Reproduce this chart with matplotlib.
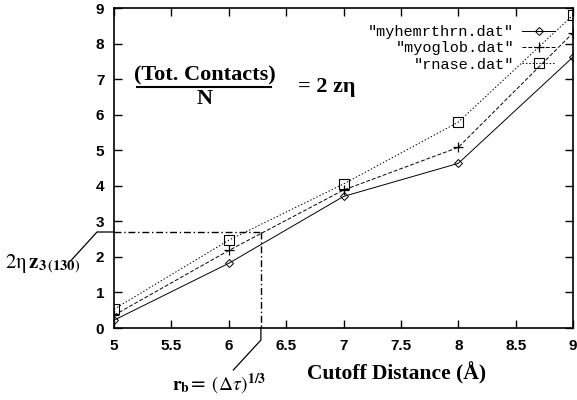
import matplotlib
matplotlib.use("Agg")
import matplotlib.pyplot as plt

plt.rcParams["mathtext.fontset"] = "stix"

# cutoff distance (Angstrom)
cutoff = [5, 6, 7, 8, 9]
# contacts per residue for each protein
myhemrthrn = [0.22, 1.82, 3.70, 4.63, 7.62]
myoglob = [0.36, 2.18, 3.88, 5.08, 8.30]
rnase = [0.53, 2.47, 4.05, 5.79, 8.80]
labels = ['"myhemrthrn.dat"', '"myoglob.dat"', '"rnase.dat"']

x_ticks = [5, 5.5, 6, 6.5, 7, 7.5, 8, 8.5, 9]
x_ticklabels = ["5", "5.5", "6", "6.5", "7", "7.5", "8", "8.5", "9"]
y_ticks = list(range(10))

# construction point marked on the chart
r_b = 6.28
z3_level = 2.70

fig = plt.figure(figsize=(5.77, 4.0), dpi=100)
ax = fig.add_axes([0.1976, 0.18, 0.7955, 0.80])

lw = 0.7
ax.plot(cutoff, myhemrthrn, color="black", lw=lw, ls="-", marker="D",
        ms=4.5, mfc="none", mew=0.7, label=labels[0])
ax.plot(cutoff, myoglob, color="black", lw=lw, ls=(0, (4, 2)), marker="+",
        ms=7, mew=0.9, label=labels[1])
ax.plot(cutoff, rnase, color="black", lw=lw, ls=(0, (1.5, 2)), marker="s",
        ms=7, mfc="none", mew=0.8, label=labels[2])

ax.set_xlim(5, 9)
ax.set_ylim(0, 9)
ax.set_xticks(x_ticks)
ax.set_xticklabels(x_ticklabels)
ax.set_yticks(y_ticks)
ax.tick_params(direction="in", length=6, width=1, top=True, right=True,
               labelsize=11)
ax.tick_params(axis="x", pad=8)
ax.tick_params(axis="y", pad=7)
for lab in ax.get_xticklabels() + ax.get_yticklabels():
    lab.set_fontfamily("Liberation Sans")
    lab.set_fontweight("bold")
for sp in ax.spines.values():
    sp.set_linewidth(1.2)

leg = ax.legend(loc="upper right", bbox_to_anchor=(0.985, 0.98),
                markerfirst=False, frameon=False, handlelength=2.2,
                handletextpad=0.5, labelspacing=0.15, borderpad=0.2,
                prop={"family": "Liberation Mono", "size": 11})

# dash-dot construction lines
ax.plot([5, r_b], [z3_level, z3_level], color="black", lw=1.0,
        ls=(0, (5, 2, 1, 2)))
ax.plot([r_b, r_b], [z3_level, 0], color="black", lw=1.0,
        ls=(0, (5, 2, 1, 2)))
# leader lines to the outside labels
ax.plot([5, 4.852, 4.62], [z3_level, z3_level, 1.88], color="black",
        lw=0.9, clip_on=False)
ax.plot([r_b, r_b, 6.04], [0, -0.34, -1.18], color="black", lw=0.9,
        clip_on=False)

ax.text(4.705, 1.80, r"$\mathrm{2η}\,\mathbf{z}_{\mathbf{3}\,\mathbf{(130)}}$",
        fontsize=15, ha="right", va="center", clip_on=False)
ax.text(5.92, -1.58, r"$\mathbf{r_b}$= $(\Delta\tau)^{\mathbf{1/3}}$",
        fontsize=14, ha="center", va="center", clip_on=False)

# fraction annotation
ax.text(5.79, 7.09, "(Tot. Contacts)", family="Liberation Serif",
        weight="bold", fontsize=16, ha="center", va="center")
ax.plot([5.2, 6.37], [6.79, 6.79], color="black", lw=1.5)
ax.text(5.79, 6.45, "N", family="Liberation Serif", weight="bold",
        fontsize=16, ha="center", va="center")
ax.text(6.6, 6.78, "= 2 zη", family="Liberation Serif", weight="bold",
        fontsize=16, ha="left", va="center")

ax.text(7.466, -1.27, "Cutoff Distance (Å)", family="Liberation Serif",
        weight="bold", fontsize=15.5, ha="center", va="center", clip_on=False)

fig.savefig("out.png", dpi=100)
